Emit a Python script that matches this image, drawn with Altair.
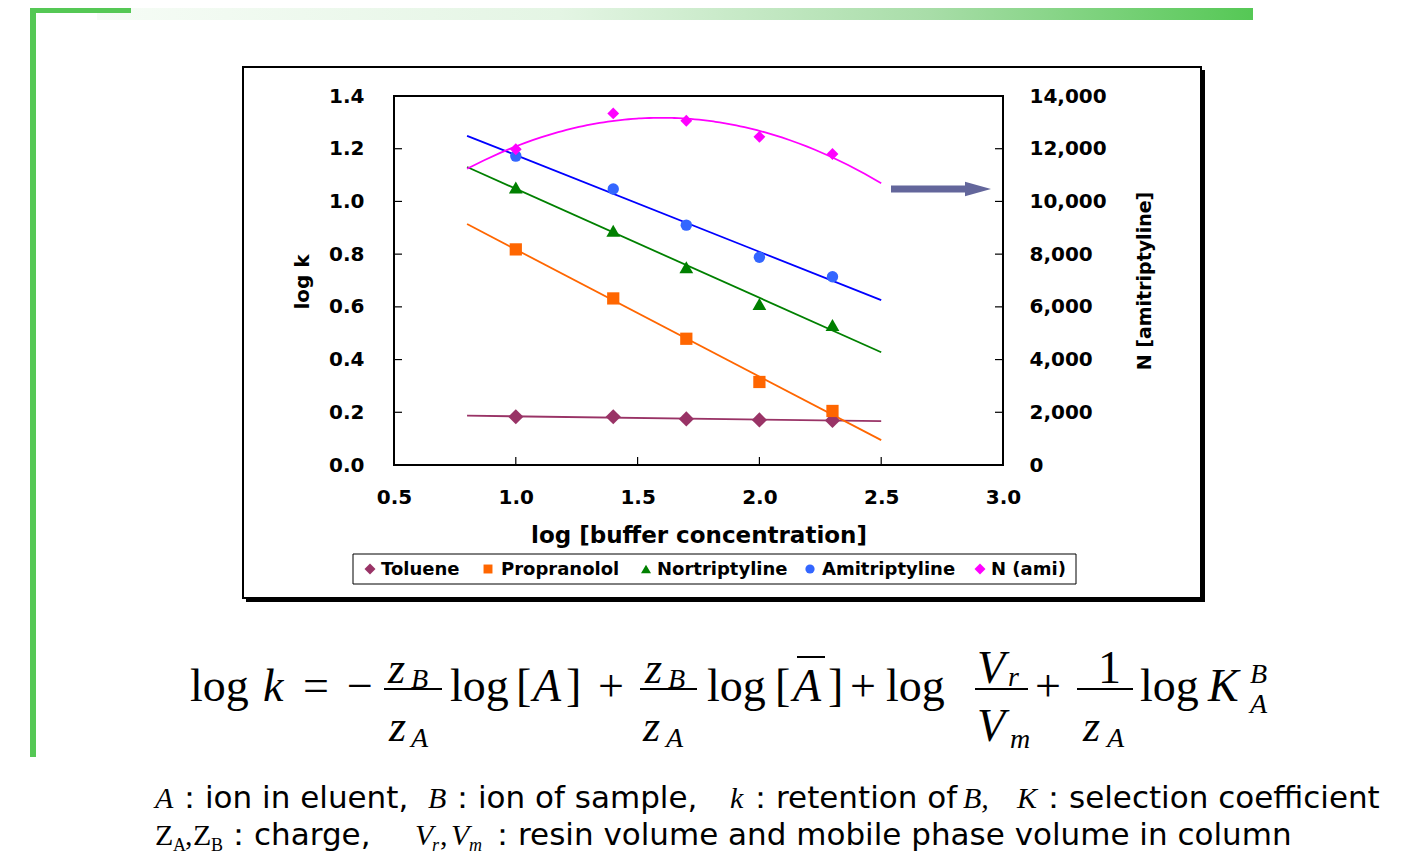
import altair as alt
import pandas as pd

# ---------------- data ----------------
x_conc = [1.0, 1.4, 1.7, 2.0, 2.3]
toluene = [0.183, 0.183, 0.175, 0.171, 0.169]
propranolol = [0.818, 0.632, 0.479, 0.315, 0.205]
nortriptyline = [1.053, 0.889, 0.750, 0.611, 0.531]
amitriptyline = [1.172, 1.047, 0.910, 0.788, 0.714]
n_ami = [11980, 13340, 13060, 12450, 11800]

series_names = ["Toluene", "Propranolol", "Nortriptyline", "Amitriptyline", "N (ami)"]
logk_series = {"Toluene": toluene, "Propranolol": propranolol,
               "Nortriptyline": nortriptyline, "Amitriptyline": amitriptyline}

fit_extent = [0.8, 2.5]
x_ticks = [0.5, 1.0, 1.5, 2.0, 2.5, 3.0]
logk_ticks = [0.0, 0.2, 0.4, 0.6, 0.8, 1.0, 1.2, 1.4]
n_ticks = [0, 2000, 4000, 6000, 8000, 10000, 12000, 14000]

# ---------------- styles ----------------
marker_colors = ["#993366", "#FF6600", "#008000", "#3366FF", "#FF00FF"]
line_colors = ["#993366", "#FF6600", "#008000", "#0000FF", "#FF00FF"]
marker_shapes = ["diamond", "square", "triangle-up", "circle", "diamond"]
marker_sizes = {"Toluene": 230, "Propranolol": 150, "Nortriptyline": 190,
                "Amitriptyline": 130, "N (ami)": 140}
legend_sizes = [120, 80, 100, 85, 120]

SANS = "DejaVu Sans"
SERIF = "Liberation Serif"

W, H = 609, 369
OX, OY = 394, 96   # page position of the plot area


def X(p):
    return p - OX


def Y(p):
    return p - OY


rows = []
for name, vals in logk_series.items():
    for xv, yv in zip(x_conc, vals):
        rows.append({"series": name, "x": xv, "y": yv})
df_logk = pd.DataFrame(rows)
df_n = pd.DataFrame({"series": "N (ami)", "x": x_conc, "y": n_ami})

dummy = alt.Data(values=[{"k": 0}])

x_scale = alt.Scale(domain=[0.5, 3.0], nice=False, zero=False)
logk_scale = alt.Scale(domain=[0, 1.4], nice=False, zero=False)
n_scale = alt.Scale(domain=[0, 14000], nice=False, zero=False)

lab = dict(labelFont=SANS, labelFontSize=20, labelFontWeight="bold",
           labelColor="black", ticks=False, domain=False, grid=False,
           title=None, labelFlush=False, labelOverlap=False, zindex=2)
x_axis = alt.Axis(values=x_ticks, format=".1f", labelPadding=22, **lab)
logk_axis = alt.Axis(orient="left", values=logk_ticks, format=".1f",
                     labelPadding=30, **lab)
n_axis = alt.Axis(orient="right", values=n_ticks, format=",.0f",
                  labelPadding=26, **lab)

color_scale = alt.Scale(domain=series_names, range=marker_colors)
shape_scale = alt.Scale(domain=series_names, range=marker_shapes)
stroke_scale = alt.Scale(domain=series_names, range=line_colors)

xenc = alt.X("x:Q", scale=x_scale, axis=x_axis)


def point_layer(df, name, yscale, yaxis):
    return alt.Chart(df).transform_filter(
        alt.datum.series == name
    ).mark_point(filled=True, opacity=1, size=marker_sizes[name]).encode(
        x=xenc,
        y=alt.Y("y:Q", scale=yscale, axis=yaxis),
        color=alt.Color("series:N", scale=color_scale, legend=None),
        shape=alt.Shape("series:N", scale=shape_scale, legend=None),
    )


# log k group
logk_lines = alt.Chart(df_logk).transform_regression(
    "x", "y", groupby=["series"], extent=fit_extent
).mark_line(strokeWidth=1.8).encode(
    x=xenc,
    y=alt.Y("y:Q", scale=logk_scale, axis=logk_axis),
    stroke=alt.Stroke("series:N", scale=stroke_scale, legend=None),
    detail="series:N",
)
logk_points = [point_layer(df_logk, n, logk_scale, logk_axis)
               for n in series_names[:4]]
left_ticks = alt.Chart(pd.DataFrame({"y": logk_ticks})).mark_rule(
    color="black", strokeWidth=1.2
).encode(y=alt.Y("y:Q", scale=logk_scale, axis=logk_axis),
         x=alt.value(0), x2=alt.value(8))
bottom_ticks = alt.Chart(pd.DataFrame({"x": x_ticks})).mark_rule(
    color="black", strokeWidth=1.2
).encode(x=xenc, y=alt.value(H), y2=alt.value(H - 8))
logk_group = alt.layer(left_ticks, bottom_ticks, logk_lines, *logk_points)

# N group
n_line = alt.Chart(df_n).transform_regression(
    "x", "y", method="poly", order=2, extent=fit_extent
).mark_line(strokeWidth=1.8, color="#FF00FF").encode(
    x=xenc, y=alt.Y("y:Q", scale=n_scale, axis=n_axis)
)
n_points = point_layer(df_n, "N (ami)", n_scale, n_axis)
right_ticks = alt.Chart(pd.DataFrame({"y": n_ticks})).mark_rule(
    color="black", strokeWidth=1.2
).encode(y=alt.Y("y:Q", scale=n_scale, axis=n_axis),
         x=alt.value(W - 8), x2=alt.value(W))
n_group = alt.layer(right_ticks, n_line, n_points)


# ---------------- helpers for decorations ----------------
def txt(s, x, y, size, font=SANS, weight="normal", style="normal",
        align="left", baseline="alphabetic", angle=None, color="black"):
    mk = dict(text=s, font=font, fontSize=size, fontWeight=weight,
              fontStyle=style, align=align, baseline=baseline, color=color)
    if angle is not None:
        mk["angle"] = angle
    return alt.Chart(dummy).mark_text(**mk).encode(
        x=alt.value(X(x)), y=alt.value(Y(y)))


def rect(x1, y1, x2, y2, **kw):
    return alt.Chart(dummy).mark_rect(**kw).encode(
        x=alt.value(X(x1)), x2=alt.value(X(x2)),
        y=alt.value(Y(y1)), y2=alt.value(Y(y2)))


def hline(x1, x2, y, w=2, color="black"):
    return alt.Chart(dummy).mark_rule(strokeWidth=w, color=color).encode(
        x=alt.value(X(x1)), x2=alt.value(X(x2)), y=alt.value(Y(y)))


def vline(x, y1, y2, w=2, color="black"):
    return alt.Chart(dummy).mark_rule(strokeWidth=w, color=color).encode(
        x=alt.value(X(x)), y=alt.value(Y(y1)), y2=alt.value(Y(y2)))


def symbol(x, y, shape, color, size):
    return alt.Chart(dummy).mark_point(shape=shape, filled=True, opacity=1,
                                       size=size, color=color).encode(
        x=alt.value(X(x)), y=alt.value(Y(y)))


GREEN = "#55C855"
grad = alt.Gradient(gradient="linear", x1=0, x2=1, y1=0, y2=0, stops=[
    alt.GradientStop(color="#F6FCF6", offset=0),
    alt.GradientStop(color="#E4F5E4", offset=0.4),
    alt.GradientStop(color="#A8DDA8", offset=0.72),
    alt.GradientStop(color=GREEN, offset=1)])

bg = [
    rect(97, 2, 1253, 20, fill=grad),
    rect(30, 5, 131, 13, fill=GREEN),
    rect(30, 10, 36, 757, fill=GREEN),
    # chart frame with shadow
    rect(243, 67, 1201, 598, fill="transparent", stroke="black",
         strokeWidth=2),
    vline(1203, 70, 602, w=4),
    hline(246, 1205, 600, w=4),
    # legend box
    rect(353, 554, 1076, 584, fill="transparent", stroke="black",
         strokeWidth=1),
]

# legend entries (symbol + label)
LEG_Y = 569
leg_sym_x = [370, 488, 646, 810, 980]
leg_lab_x = [381, 501, 657, 822, 991]
legend_marks = []
for i, name in enumerate(series_names):
    legend_marks.append(symbol(leg_sym_x[i], LEG_Y, marker_shapes[i],
                               marker_colors[i], legend_sizes[i]))
    legend_marks.append(txt(name, leg_lab_x[i], LEG_Y + 1, 18, weight="bold",
                            baseline="middle"))

ARROW = "#63669B"
fg = [
    hline(891, 968, 189, w=7, color=ARROW),
    symbol(978, 189, "M-1,-0.55L1,0L-1,0.55Z", ARROW, 676),
    txt("log [buffer concentration]", 699, 543, 23, weight="bold",
        align="center"),
    txt("log k", 303, 282, 20, weight="bold", align="center",
        baseline="middle", angle=270),
    txt("N [amitriptyline]", 1145, 281, 19, weight="bold", align="center",
        baseline="middle", angle=270),
]

# ---------------- equation ----------------
M, F, S = 46, 44, 28
BASE, NUM, DEN, BAR = 701, 683, 741, 689


def e(s, x, y, size=M, style="normal"):
    return txt(s, x, y, size, font=SERIF, style=style)


eq = [
    e("log", 190, BASE), e("k", 263, BASE, style="italic"),
    e("=", 303, BASE), e("\u2212", 347, BASE),
    e("z", 388, NUM, F, "italic"), e("B", 411, NUM + 5, S, "italic"),
    hline(384, 442, BAR, w=2),
    e("z", 389, DEN, F, "italic"), e("A", 411, DEN + 6, S, "italic"),
    e("log", 450, BASE), e("[", 516, BASE), e("A", 533, BASE, style="italic"),
    e("]", 566, BASE),
    e("+", 598, BASE),
    e("z", 645, NUM, F, "italic"), e("B", 668, NUM + 5, S, "italic"),
    hline(640, 697, BAR, w=2),
    e("z", 643, DEN, F, "italic"), e("A", 666, DEN + 6, S, "italic"),
    e("log", 707, BASE), e("[", 775, BASE), e("A", 793, BASE, style="italic"),
    hline(797, 825, 657, w=2),
    e("]", 828, BASE),
    e("+", 850, BASE),
    e("log", 886, BASE),
    e("V", 977, NUM, M, "italic"), e("r", 1008, NUM + 3, S, "italic"),
    hline(975, 1028, BAR, w=2),
    e("V", 977, DEN, M, "italic"), e("m", 1010, DEN + 7, S, "italic"),
    e("+", 1035, BASE),
    e("1", 1098, NUM, M),
    hline(1077, 1133, BAR, w=2),
    e("z", 1083, DEN, F, "italic"), e("A", 1107, DEN + 6, S, "italic"),
    e("log", 1140, BASE), e("K", 1208, BASE, style="italic"),
    e("B", 1250, 683, S, "italic"), e("A", 1250, 713, S, "italic"),
]

# ---------------- notes ----------------
T, TS, SUB = 31, 30, 18
L1, L2 = 808, 845
notes = [
    txt("A", 155, L1, TS, font=SERIF, style="italic"),
    txt("\uff1aion in eluent,", 174, L1, T),
    txt("B", 428, L1, TS, font=SERIF, style="italic"),
    txt("\uff1aion of sample,", 447, L1, T),
    txt("k", 730, L1, TS, font=SERIF, style="italic"),
    txt("\uff1aretention of", 745, L1, T),
    txt("B,", 963, L1, TS, font=SERIF, style="italic"),
    txt("K", 1017, L1, TS, font=SERIF, style="italic"),
    txt("\uff1aselection coefficient", 1038, L1, T),
    txt("Z", 155, L2, TS, font=SERIF),
    txt("A", 173, L2 + 6, SUB, font=SERIF),
    txt(",", 185, L2, TS, font=SERIF),
    txt("Z", 193, L2, TS, font=SERIF),
    txt("B", 211, L2 + 6, SUB, font=SERIF),
    txt("\uff1acharge,", 223, L2, T),
    txt("V", 415, L2, TS, font=SERIF, style="italic"),
    txt("r", 432, L2 + 6, SUB, font=SERIF, style="italic"),
    txt(",", 440, L2, TS, font=SERIF),
    txt("V", 451, L2, TS, font=SERIF, style="italic"),
    txt("m", 469, L2 + 6, SUB, font=SERIF, style="italic"),
    txt("\uff1aresin volume and mobile phase volume in column", 487, L2, T),
]

chart = alt.layer(*bg, logk_group, n_group, *legend_marks, *fg, *eq,
                  *notes).resolve_scale(
    y="independent"
).properties(
    width=W, height=H,
    autosize=alt.AutoSizeParams(type="none"),
    padding={"left": OX - 8, "top": OY - 8,
             "right": 1409 - (OX - 8) - W, "bottom": 847 - (OY - 8) - H},
).configure_view(stroke="black", strokeWidth=2)

chart.save("out.html", embed_options={"renderer": "svg", "actions": False})
